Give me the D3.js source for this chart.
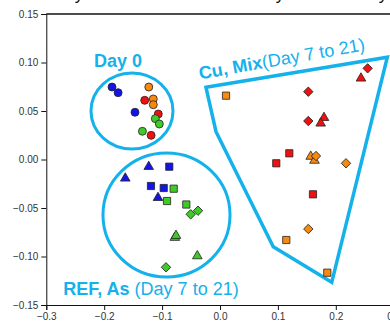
<!DOCTYPE html>
<html><head><meta charset="utf-8">
<script src="https://cdn.jsdelivr.net/npm/d3@7"></script>
<style>
html,body{margin:0;padding:0;background:#fff;overflow:hidden;}
svg{display:block;font-family:"Liberation Sans",Arial,sans-serif;}
</style></head>
<body>
<svg id="chart" width="390" height="327"></svg>
<script>
// ---- data ----
const xTicks = [-0.3, -0.2, -0.1, 0.0, 0.1, 0.2, 0.3];
const yTicks = [-0.15, -0.10, -0.05, 0.00, 0.05, 0.10, 0.15];

// Day 0 (circles)
const blueCircle   = [[-0.1865, 0.0747], [-0.176, 0.0689], [-0.1468, 0.0487]];
const orangeCircle = [[-0.123, 0.0747], [-0.1152, 0.0624], [-0.1152, 0.0565]];
const redCircle    = [[-0.130, 0.061], [-0.1066, 0.0469], [-0.119, 0.0249]];
const greenCircle  = [[-0.1117, 0.0421], [-0.1048, 0.0366], [-0.134, 0.0291]];
// REF, As (Day 7 to 21)
const blueTriangle  = [[-0.1231, -0.0074], [-0.1636, -0.0194], [-0.1071, -0.0394]];
const blueSquare    = [[-0.0876, -0.0074], [-0.1192, -0.0273], [-0.0972, -0.0294]];
const greenSquare   = [[-0.080, -0.0301], [-0.0915, -0.0428], [-0.0582, -0.0464]];
const greenDiamond  = [[-0.0506, -0.0565], [-0.038, -0.0528], [-0.0933, -0.1111]];
const greenTriangle = [[-0.078, -0.0805], [-0.076, -0.0785], [-0.0392, -0.0995]];
// Cu, Mix (Day 7 to 21)
const orangeSquare   = [[0.0104, 0.0658], [0.1145, -0.083], [0.1853, -0.1167]];
const orangeTriangle = [[0.1567, 0.0031], [0.1632, -0.001]];
const orangeDiamond  = [[0.1658, 0.0036], [0.2176, -0.0039], [0.1525, -0.0716]];
const redDiamond     = [[0.255, 0.094], [0.1525, 0.0699], [0.1525, 0.0397]];
const redTriangle    = [[0.2435, 0.0837], [0.1796, 0.0431], [0.1739, 0.0373]];
const redSquare      = [[0.1197, 0.0064], [0.0972, -0.0039], [0.1606, -0.0359]];

// group outlines (data coordinates)
const day0Ellipse = [-0.152, 0.050, 0.0708, 0.0392];   // cx, cy, rx, ry
const refEllipse  = [-0.0924, -0.0572, 0.1097, 0.0639];
const cuPolygon   = [[-0.0242, 0.0744], [0.289, 0.1054], [0.193, -0.1266], [0.092, -0.0899], [-0.0069, 0.0287]];

// ---- drawing ----
const COL = {blue:"#1414e6", orange:"#f7890f", red:"#ee1111", green:"#3ecb27"};
const ANN = "#14b1eb";
const svg = d3.select("#chart");
const x = d3.scaleLinear().domain([-0.3, 0.3]).range([46.3, 393.7]);
const y = d3.scaleLinear().domain([-0.15, 0.15]).range([305, 14]);

// clipped title fragments at very top
[79, 280, 383].forEach(px => svg.append("text").attr("x", px).attr("y", 0)
  .attr("text-anchor","middle").attr("font-size", 17).attr("fill","#111").text("y"));

// axes
const yAxis = d3.axisLeft(y).tickValues(yTicks).tickFormat(d3.format(".2f")).tickSize(5).tickPadding(3);
const xAxis = d3.axisBottom(x).tickValues(xTicks).tickFormat(d3.format(".1f")).tickSize(5).tickPadding(3);
const gy = svg.append("g").attr("transform", `translate(${x(-0.3)},0)`).call(yAxis);
const gx = svg.append("g").attr("transform", `translate(0,${y(-0.15)})`).call(xAxis);
[gx, gy].forEach(g => {
  g.selectAll("text").attr("font-size", 10).attr("fill", "#333").attr("font-family", "Liberation Sans, Arial, sans-serif");
  g.selectAll("line,path").attr("stroke", "#111");
});
// top frame line
svg.append("line").attr("x1", x(-0.3)).attr("x2", x(0.3)).attr("y1", y(0.15)).attr("y2", y(0.15))
  .attr("stroke", "#111").attr("stroke-width", 1.5);

// outlines
const kx = Math.abs(x(1) - x(0)), ky = Math.abs(y(1) - y(0));
[day0Ellipse, refEllipse].forEach(e => svg.append("ellipse")
  .attr("cx", x(e[0])).attr("cy", y(e[1])).attr("rx", e[2]*kx).attr("ry", e[3]*ky)
  .attr("fill","none").attr("stroke", ANN).attr("stroke-width", 3));
svg.append("path").attr("d", d3.line().x(d => x(d[0])).y(d => y(d[1])).curve(d3.curveLinearClosed)(cuPolygon))
  .attr("fill","none").attr("stroke", ANN).attr("stroke-width", 3.5).attr("stroke-linejoin","miter");

// markers
const shapes = {
  circle:   {sym: d3.symbolCircle, size: 50, rot: 0},
  square:   {sym: d3.symbolSquare, size: 52, rot: 0},
  triangle: {sym: d3.symbolTriangle, size: 40, rot: 0},
  diamond:  {sym: d3.symbolSquare, size: 44, rot: 45}
};
const series = [
  [blueCircle,"circle","blue"],[orangeCircle,"circle","orange"],[redCircle,"circle","red"],[greenCircle,"circle","green"],
  [blueTriangle,"triangle","blue"],[blueSquare,"square","blue"],[greenSquare,"square","green"],
  [greenDiamond,"diamond","green"],[greenTriangle,"triangle","green"],
  [orangeSquare,"square","orange"],[orangeTriangle,"triangle","orange"],[orangeDiamond,"diamond","orange"],
  [redDiamond,"diamond","red"],[redTriangle,"triangle","red"],[redSquare,"square","red"]
];
series.forEach(([pts, shp, col]) => {
  const s = shapes[shp];
  svg.append("g").selectAll("path").data(pts).join("path")
    .attr("d", d3.symbol().type(s.sym).size(s.size)())
    .attr("transform", d => `translate(${x(d[0])},${y(d[1])}) rotate(${s.rot})`)
    .attr("fill", COL[col]).attr("stroke", "#222").attr("stroke-width", 0.8);
});

// labels
svg.append("text").attr("x", x(-0.2176)).attr("y", y(0.0955)).attr("fill", ANN)
  .attr("font-size", 18).attr("font-weight", "bold").text("Day 0");
const ref = svg.append("text").attr("x", x(-0.2707)).attr("y", y(-0.1401)).attr("fill", ANN).attr("font-size", 18);
ref.append("tspan").attr("font-weight","bold").text("REF, As ");
ref.append("tspan").text("(Day 7 to 21)");
const cu = svg.append("text").attr("transform", `translate(${x(-0.0345)},${y(0.0825)}) rotate(-10)`)
  .attr("fill", ANN).attr("font-size", 18);
cu.append("tspan").attr("font-weight","bold").text("Cu, Mix");
cu.append("tspan").text("(Day 7 to 21)");
</script>
</body></html>
